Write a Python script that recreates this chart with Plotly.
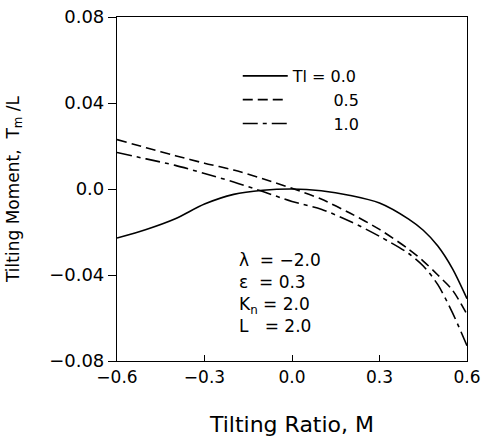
import plotly.graph_objects as go

# tilting ratio M
tilting_ratio = [-0.6, -0.5, -0.4, -0.3, -0.2, -0.1, 0.0, 0.1, 0.2, 0.3, 0.4, 0.45, 0.5, 0.55, 0.6]

# tilting moment Tm/L for Tl = 0.0, 0.5, 1.0
moment_tl_00 = [-0.0228, -0.0188, -0.0138, -0.0070, -0.0025, -0.0006, 0.0, -0.0008,
                -0.0030, -0.0065, -0.0140, -0.0192, -0.0265, -0.0370, -0.0510]
moment_tl_05 = [0.0230, 0.0192, 0.0155, 0.0120, 0.0088, 0.0048, 0.0003, -0.0047,
                -0.0113, -0.0188, -0.0280, -0.0335, -0.0400, -0.0470, -0.0583]
moment_tl_10 = [0.0170, 0.0140, 0.0110, 0.0072, 0.0033, -0.0012, -0.0058, -0.0094,
                -0.0151, -0.0220, -0.0300, -0.0358, -0.0445, -0.0575, -0.0729]

series_names = ["Tl = 0.0", "\u00a0\u00a0\u00a0\u00a0\u00a0\u00a0\u00a0\u00a00.5",
                "\u00a0\u00a0\u00a0\u00a0\u00a0\u00a0\u00a0\u00a01.0"]
series_dash = ["solid", "10px,5px", "15px,5px,4px,5px"]

x_tickvals = [-0.6, -0.3, 0.0, 0.3, 0.6]
x_ticktext = ["\u22120.6", "\u22120.3", "0.0", "0.3", "0.6"]
y_tickvals = [-0.08, -0.04, 0.0, 0.04, 0.08]
y_ticktext = ["\u22120.08", "\u22120.04", "0.0", "0.04", "0.08"]

FONT = "DejaVu Sans"

fig = go.Figure()
for name, ys, dash in zip(series_names, [moment_tl_00, moment_tl_05, moment_tl_10], series_dash):
    fig.add_trace(go.Scatter(x=tilting_ratio, y=ys, mode="lines", name=name,
                             line=dict(color="black", width=1.6, dash=dash,
                                       shape="spline", smoothing=0.8)))

# parameter block
fig.add_annotation(x=0.342, y=0.329, xref="paper", yref="paper", xanchor="left", yanchor="top",
                   align="left", showarrow=False,
                   text="\u03bb\u00a0\u00a0=\u00a0\u22122.0<br>\u03b5\u00a0\u00a0=\u00a00.3<br>"
                        "K<sub>n</sub>\u00a0=\u00a02.0<br>L\u00a0\u00a0\u00a0=\u00a02.0",
                   font=dict(family=FONT, size=17, color="black"))

fig.update_layout(
    width=481, height=437,
    margin=dict(l=117, r=14, t=17, b=76),
    plot_bgcolor="white", paper_bgcolor="white",
    font=dict(family=FONT, size=18, color="black"),
    showlegend=True,
    legend=dict(x=0.345, y=0.878, xanchor="left", yanchor="top", itemwidth=45,
                bgcolor="rgba(0,0,0,0)", font=dict(size=16), tracegroupgap=0),
)
fig.update_xaxes(range=[-0.6, 0.6], tickvals=x_tickvals, ticktext=x_ticktext,
                 tickfont=dict(size=17), ticklabeloverflow="allow", automargin=False,
                 ticks="inside", ticklen=6, tickcolor="black", showgrid=False, zeroline=False,
                 showline=True, linecolor="black", linewidth=1.2, mirror=True,
                 title=dict(text="Tilting Ratio, M", font=dict(size=22), standoff=34))
fig.update_yaxes(range=[-0.08, 0.08], tickvals=y_tickvals, ticktext=y_ticktext,
                 automargin=False,
                 ticks="outside", ticklen=8, tickcolor="black", showgrid=False, zeroline=False,
                 showline=True, linecolor="black", linewidth=1.2, mirror=True,
                 title=dict(text="Tilting Moment,\u00a0 T<sub>m</sub> /L", font=dict(size=17), standoff=25))

# page body has a default 8px margin; drop it so the figure sits at the window corner
fig.write_html("out.html", config={"displayModeBar": False},
               post_script="document.body.style.margin='0';")
